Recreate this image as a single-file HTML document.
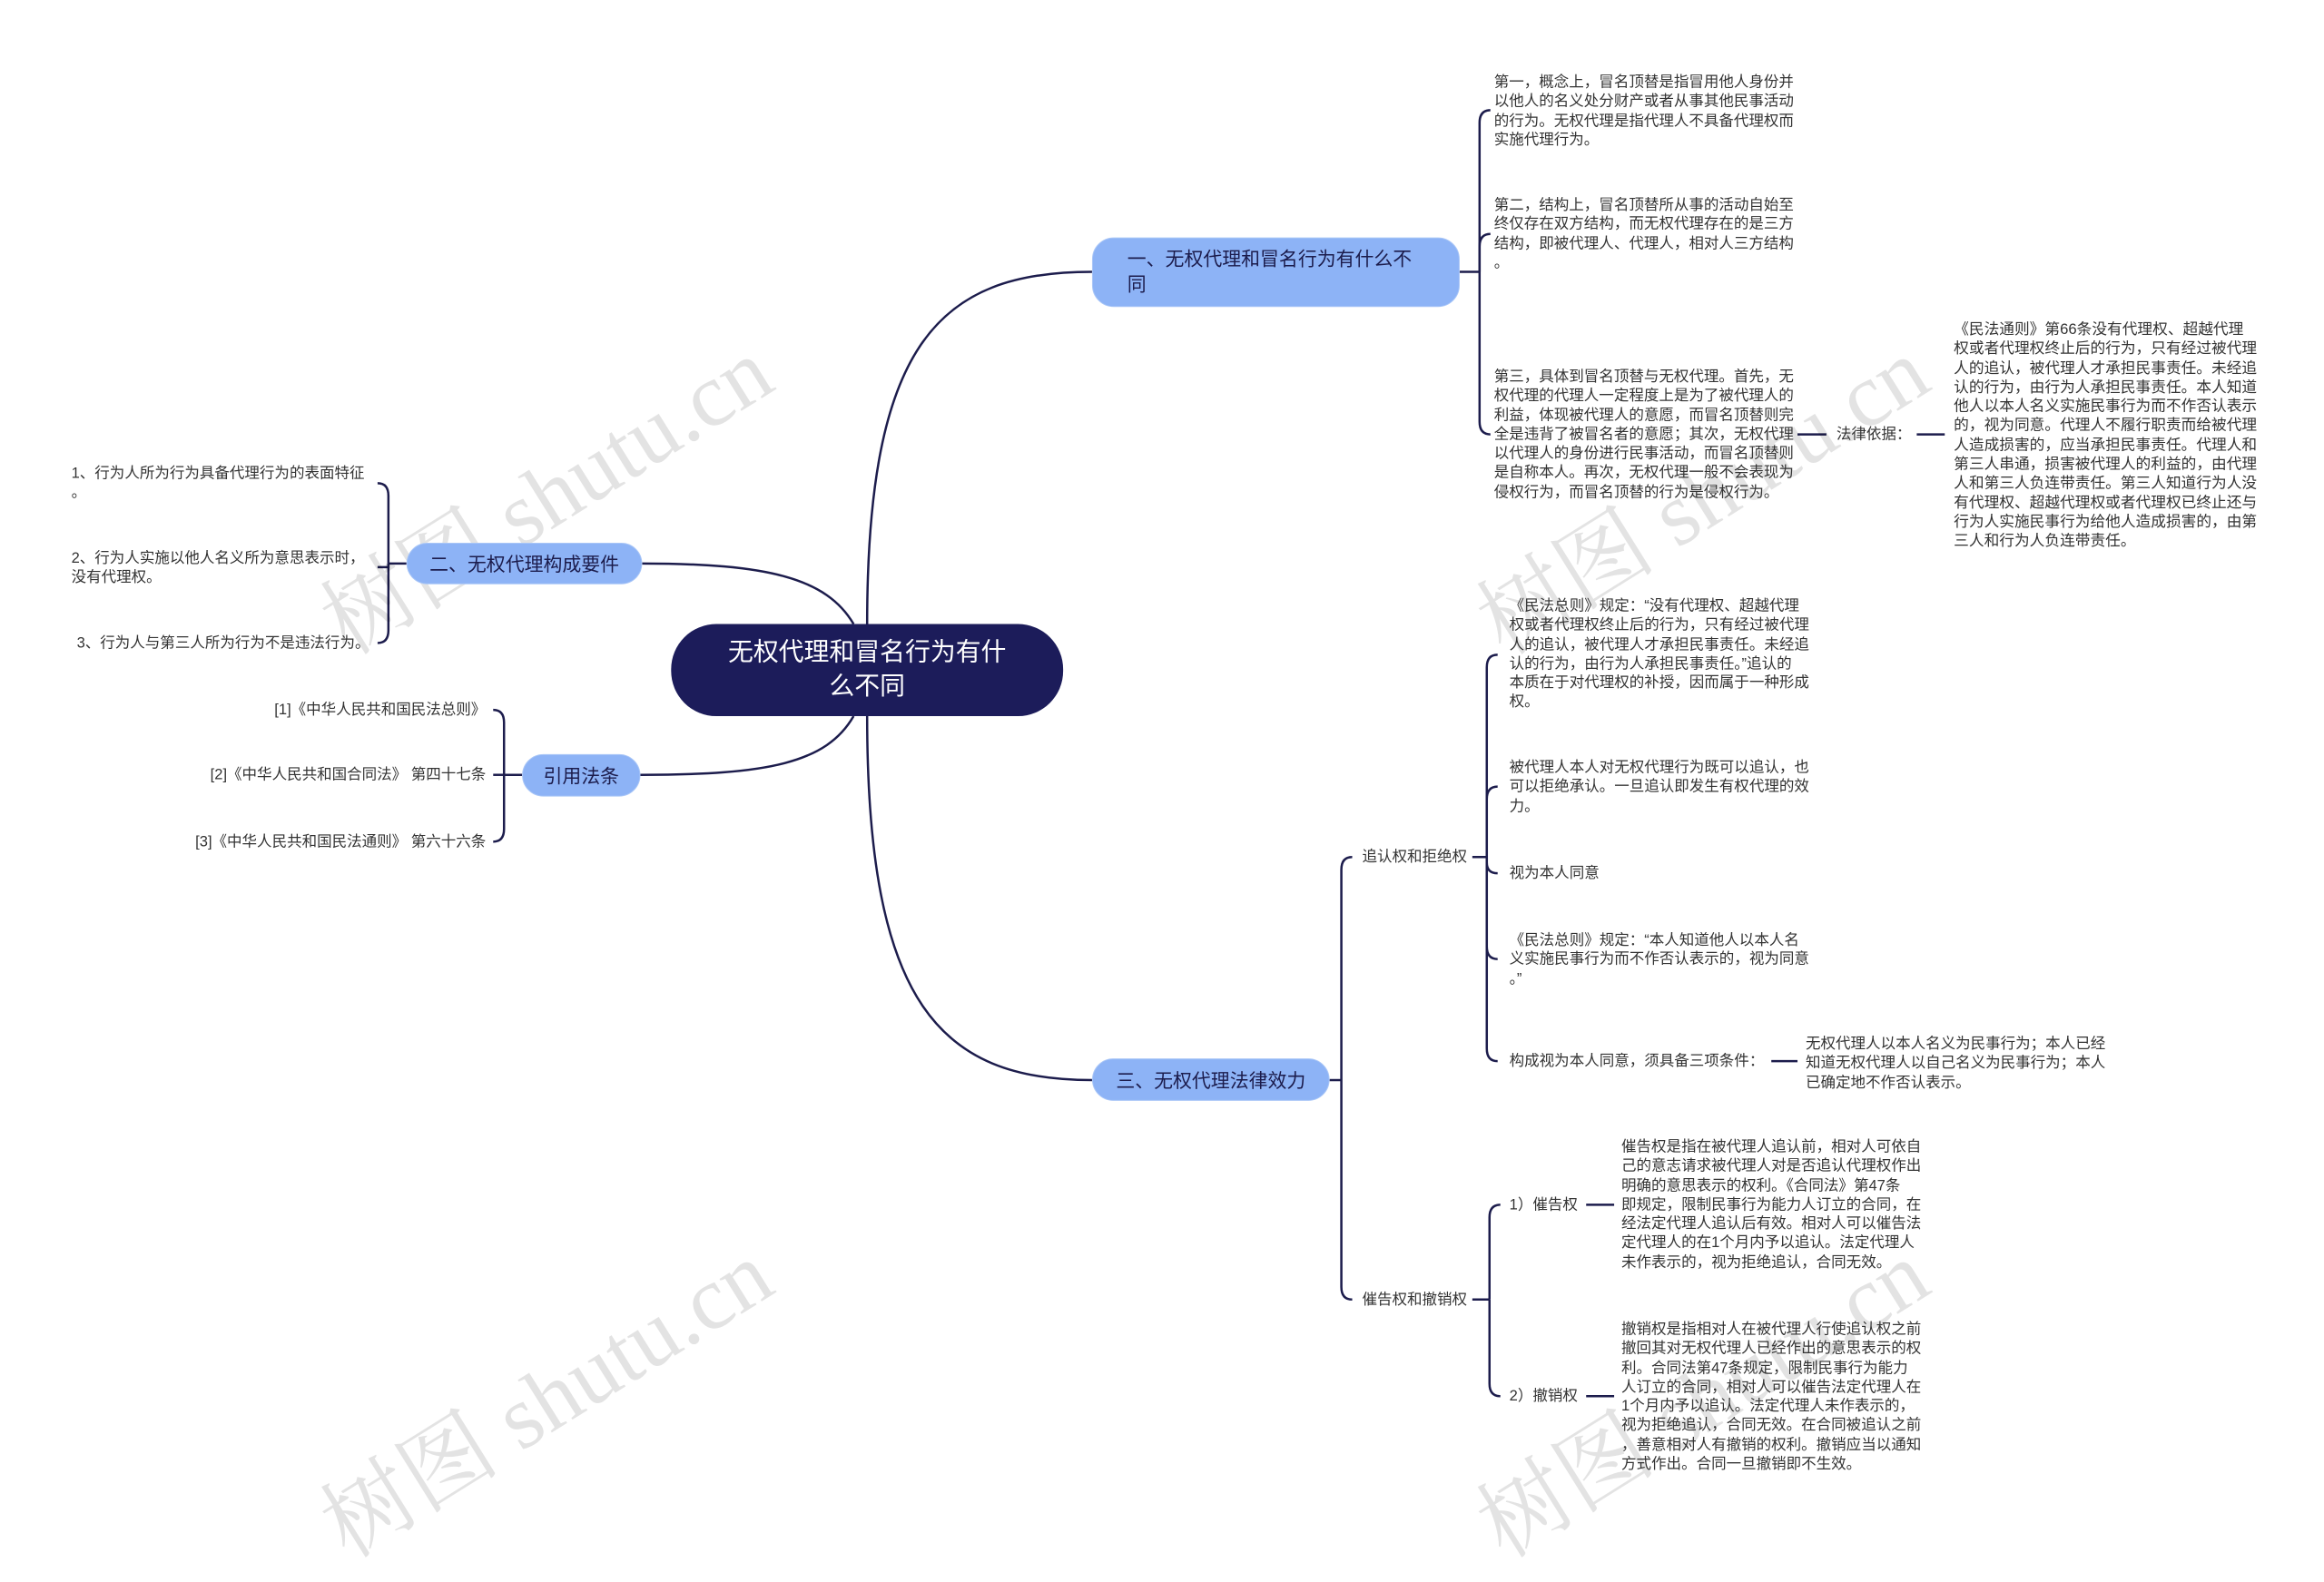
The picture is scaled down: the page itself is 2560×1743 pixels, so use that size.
<!DOCTYPE html>
<html><head><meta charset="utf-8"><style>
*{margin:0;padding:0;box-sizing:border-box}
body{width:2560px;height:1702px;background:#fff;position:relative;overflow:hidden;font-family:"Liberation Sans","Noto Sans CJK SC",sans-serif;color:#333}
#w{position:absolute;left:0;top:0;width:2560px;height:1702px;transform:scale(0.995);transform-origin:0 0}
.t{position:absolute;font-size:16.6px;line-height:21.3px;white-space:nowrap}
.b{position:absolute;background:#8db3f6;border:1px solid #a9c6f7;border-radius:24px;color:#1c1c4c;font-size:21px;display:flex;align-items:center;justify-content:center;white-space:nowrap}
.r{position:absolute;left:743px;top:691px;width:434px;height:102px;background:#1c1c5a;border-radius:50px;color:#fff;font-size:28px;line-height:38px;text-align:center;padding-top:12px}
.wm{position:absolute;font-size:100px;color:rgba(0,0,0,0.11);transform:rotate(-32deg);white-space:nowrap;font-family:"Liberation Serif","Noto Serif CJK SC",serif}
</style></head><body><div id="w">
<svg width="2560" height="1702" style="position:absolute;left:0;top:0" fill="none" stroke="#1c1c4c" stroke-width="2.5">
<path d="M960 691 C960 380 1040 301 1209 301"/>
<path d="M960 793 C960 1110 1040 1196 1209 1196"/>
<path d="M945 691 C915 640 850 624 711 624"/>
<path d="M945 793 C915 845 850 858 709 858"/>
<path d="M1616 301 L1638 301"/>
<path d="M1638 301 L1638 136 Q1638 122 1650 122"/>
<path d="M1638 301 L1638 273 Q1638 259 1650 259"/>
<path d="M1638 301 L1638 467 Q1638 481 1650 481"/>
<path d="M1990 481 L2022 481 M2122 481 L2153 481"/>
<path d="M450 624 L430 624"/>
<path d="M430 624 L430 549 Q430 535 418 535"/>
<path d="M430 624 L430 628 L418 628"/>
<path d="M430 624 L430 698 Q430 712 418 712"/>
<path d="M578 858 L558 858"/>
<path d="M558 858 L558 800 Q558 786 546 786"/>
<path d="M558 858 L546 858"/>
<path d="M558 858 L558 918 Q558 932 546 932"/>
<path d="M1472 1196 L1485 1196"/>
<path d="M1485 1196 L1485 963 Q1485 949 1497 949"/>
<path d="M1485 1196 L1485 1425 Q1485 1439 1497 1439"/>
<path d="M1630 949 L1646 949"/>
<path d="M1646 949 L1646 739 Q1646 725 1658 725"/>
<path d="M1646 949 L1646 885 Q1646 871 1658 871"/>
<path d="M1646 949 L1646 955 Q1646 967 1658 967"/>
<path d="M1646 949 L1646 1048 Q1646 1062 1658 1062"/>
<path d="M1646 949 L1646 1161 Q1646 1175 1658 1175"/>
<path d="M1961 1175 L1990 1175"/>
<path d="M1630 1439 L1649 1439"/>
<path d="M1649 1439 L1649 1348 Q1649 1334 1661 1334"/>
<path d="M1649 1439 L1649 1532 Q1649 1546 1661 1546"/>
<path d="M1756 1334 L1787 1334 M1756 1546 L1787 1546"/>
</svg>

<div class="wm" style="left:320px;top:470px">树图 shutu.cn</div>
<div class="wm" style="left:1600px;top:470px">树图 shutu.cn</div>
<div class="wm" style="left:320px;top:1470px">树图 shutu.cn</div>
<div class="wm" style="left:1600px;top:1470px">树图 shutu.cn</div>

<div class="r">无权代理和冒名行为有什<br>么不同</div>
<div class="b" style="left:1209px;top:263px;width:407px;height:77px;justify-content:flex-start;padding-left:38px;line-height:28px"><div>一、无权代理和冒名行为有什么不<br>同</div></div>
<div class="b" style="left:450px;top:601px;width:261px;height:46px">二、无权代理构成要件</div>
<div class="b" style="left:578px;top:835px;width:131px;height:47px">引用法条</div>
<div class="b" style="left:1209px;top:1172px;width:263px;height:47px">三、无权代理法律效力</div>

<div class="t" style="left:1654px;top:80px">第一，概念上，冒名顶替是指冒用他人身份并<br>以他人的名义处分财产或者从事其他民事活动<br>的行为。无权代理是指代理人不具备代理权而<br>实施代理行为。</div>
<div class="t" style="left:1654px;top:216px">第二，结构上，冒名顶替所从事的活动自始至<br>终仅存在双方结构，而无权代理存在的是三方<br>结构，即被代理人、代理人，相对人三方结构<br>。</div>
<div class="t" style="left:1654px;top:406px">第三，具体到冒名顶替与无权代理。首先，无<br>权代理的代理人一定程度上是为了被代理人的<br>利益，体现被代理人的意愿，而冒名顶替则完<br>全是违背了被冒名者的意愿；其次，无权代理<br>以代理人的身份进行民事活动，而冒名顶替则<br>是自称本人。再次，无权代理一般不会表现为<br>侵权行为，而冒名顶替的行为是侵权行为。</div>
<div class="t" style="left:2033px;top:470px">法律依据：</div>
<div class="t" style="left:2163px;top:354px;font-size:16.8px">《民法通则》第66条没有代理权、超越代理<br>权或者代理权终止后的行为，只有经过被代理<br>人的追认，被代理人才承担民事责任。未经追<br>认的行为，由行为人承担民事责任。本人知道<br>他人以本人名义实施民事行为而不作否认表示<br>的，视为同意。代理人不履行职责而给被代理<br>人造成损害的，应当承担民事责任。代理人和<br>第三人串通，损害被代理人的利益的，由代理<br>人和第三人负连带责任。第三人知道行为人没<br>有代理权、超越代理权或者代理权已终止还与<br>行为人实施民事行为给他人造成损害的，由第<br>三人和行为人负连带责任。</div>

<div class="t" style="left:79px;top:513px">1、行为人所为行为具备代理行为的表面特征<br>。</div>
<div class="t" style="left:79px;top:607px">2、行为人实施以他人名义所为意思表示时，<br>没有代理权。</div>
<div class="t" style="left:85px;top:701px">3、行为人与第三人所为行为不是违法行为。</div>

<div class="t" style="right:2022px;top:775px">[1]《中华人民共和国民法总则》</div>
<div class="t" style="right:2022px;top:847px">[2]《中华人民共和国合同法》 第四十七条</div>
<div class="t" style="right:2022px;top:921px">[3]《中华人民共和国民法通则》 第六十六条</div>

<div class="t" style="left:1508px;top:938px">追认权和拒绝权</div>
<div class="t" style="left:1508px;top:1428px">催告权和撤销权</div>
<div class="t" style="left:1671px;top:660px">《民法总则》规定：“没有代理权、超越代理<br>权或者代理权终止后的行为，只有经过被代理<br>人的追认，被代理人才承担民事责任。未经追<br>认的行为，由行为人承担民事责任。”追认的<br>本质在于对代理权的补授，因而属于一种形成<br>权。</div>
<div class="t" style="left:1671px;top:839px">被代理人本人对无权代理行为既可以追认，也<br>可以拒绝承认。一旦追认即发生有权代理的效<br>力。</div>
<div class="t" style="left:1671px;top:956px">视为本人同意</div>
<div class="t" style="left:1671px;top:1030px">《民法总则》规定：“本人知道他人以本人名<br>义实施民事行为而不作否认表示的，视为同意<br>。”</div>
<div class="t" style="left:1671px;top:1164px">构成视为本人同意，须具备三项条件：</div>
<div class="t" style="left:1999px;top:1145px">无权代理人以本人名义为民事行为；本人已经<br>知道无权代理人以自己名义为民事行为；本人<br>已确定地不作否认表示。</div>
<div class="t" style="left:1671px;top:1323px">1）催告权</div>
<div class="t" style="left:1671px;top:1535px">2）撤销权</div>
<div class="t" style="left:1795px;top:1259px">催告权是指在被代理人追认前，相对人可依自<br>己的意志请求被代理人对是否追认代理权作出<br>明确的意思表示的权利。《合同法》第47条<br>即规定，限制民事行为能力人订立的合同，在<br>经法定代理人追认后有效。相对人可以催告法<br>定代理人的在1个月内予以追认。法定代理人<br>未作表示的，视为拒绝追认，合同无效。</div>
<div class="t" style="left:1795px;top:1461px">撤销权是指相对人在被代理人行使追认权之前<br>撤回其对无权代理人已经作出的意思表示的权<br>利。合同法第47条规定，限制民事行为能力<br>人订立的合同，相对人可以催告法定代理人在<br>1个月内予以追认。法定代理人未作表示的，<br>视为拒绝追认，合同无效。在合同被追认之前<br>，善意相对人有撤销的权利。撤销应当以通知<br>方式作出。合同一旦撤销即不生效。</div>
</div></body></html>
